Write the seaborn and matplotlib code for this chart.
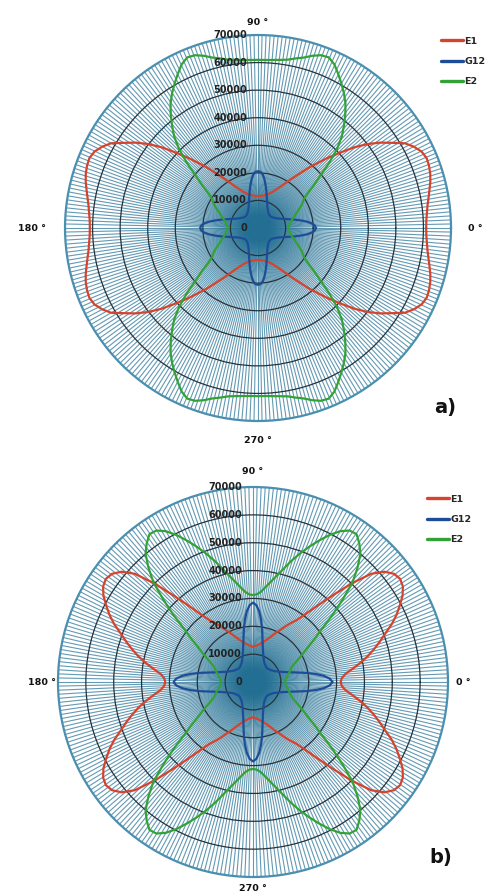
import numpy as np
import pandas as pd
import seaborn as sns
import matplotlib.pyplot as plt
from matplotlib.lines import Line2D

# angles of one quadrant (deg), 2.5 deg steps; curves are symmetric about 0 and 90 deg
quarter_deg = [i * 2.5 for i in range(37)]

# panel a) values read for 0..90 deg
E1_a = [61000, 61100, 61500, 62000, 62800, 63700, 64700, 65500, 66000, 66200,
        65500, 63800, 61500, 57500, 54000, 50000, 45500, 40500, 36200, 32000,
        28500, 25000, 22300, 20000, 18000, 16500, 15300, 14300, 13600, 13000,
        12600, 12300, 12000, 11800, 11700, 11600, 11600]
G12_a = [21000, 20600, 19500, 17800, 15800, 13900, 12200, 10800, 9700, 8800,
         8100, 7600, 7200, 6900, 6600, 6400, 6300, 6200, 6200, 6200,
         6300, 6400, 6600, 6900, 7200, 7600, 8100, 8800, 9700, 10800,
         12200, 13900, 15800, 17800, 19500, 20400, 20600]
E2_a = [11000, 11100, 11300, 11600, 12000, 12400, 13000, 13700, 14500, 15500,
        16600, 17800, 18800, 19800, 22000, 25500, 29500, 35000, 40500, 45000,
        48500, 52000, 55300, 58000, 60500, 63000, 65500, 67000, 66700, 65500,
        64000, 63000, 62000, 61500, 61200, 61000, 61000]

# panel b) values read for 0..90 deg
E1_b = [31500, 31900, 33300, 36000, 39000, 42000, 44800, 47600, 50400, 53800,
        56800, 59400, 62000, 63800, 64500, 63800, 61600, 57500, 50000, 42000,
        35500, 30500, 27000, 25000, 23000, 21000, 19500, 18000, 16800, 15800,
        15000, 14300, 13800, 13400, 13100, 12800, 12600]
G12_b = [28500, 27600, 25500, 22500, 19000, 15800, 13500, 11900, 10700, 9800,
         9100, 8500, 8100, 7800, 7600, 7400, 7200, 7100, 7100, 7100,
         7200, 7400, 7600, 7800, 8100, 8500, 9100, 9800, 10700, 11900,
         13500, 15800, 19000, 22500, 25500, 27600, 28500]
E2_b = [11500, 11600, 11800, 12100, 12500, 13000, 13500, 14100, 14600, 15500,
        17000, 18800, 21000, 23500, 27000, 31000, 37000, 43500, 50500, 55500,
        60000, 62700, 64800, 64500, 62500, 59500, 56000, 52500, 49000, 45500,
        42000, 39000, 36500, 34300, 32500, 31500, 31200]

r_ticks = [0, 10000, 20000, 30000, 40000, 50000, 60000, 70000]
series_names = ["E1", "G12", "E2"]
colors = {"E1": "#d6432c", "G12": "#1d4d98", "E2": "#33a236"}


def full_circle(q):
    # mirror the quadrant to 0..360 deg
    half = list(q) + list(q[-2::-1])
    return half + half[1:]


full_deg = quarter_deg + [180 - d for d in quarter_deg[-2::-1]]
full_deg = full_deg + [180 + d for d in full_deg[1:]]


def make_df(e1, g12, e2):
    rows = []
    for name, q in zip(series_names, [e1, g12, e2]):
        for d, v in zip(full_deg, full_circle(q)):
            rows.append({"theta": np.deg2rad(d), "value": v, "series": name})
    return pd.DataFrame(rows)


sns.set_style("white")
plt.rcParams["font.family"] = ["DejaVu Sans"]

fig = plt.figure(figsize=(4.87, 8.91), dpi=100)

panels = [
    # tag, data, axes rect, angle-label radii (0, 90, 180, 270), legend anchor, tag pos
    ("a)", make_df(E1_a, G12_a, E2_a), [0.1335, 0.5275, 0.7926, 0.4332],
     [78700, 74700, 82000, 76900], (0.905, 0.959), (0.915, 0.543)),
    ("b)", make_df(E1_b, G12_b, E2_b), [0.1191, 0.0157, 0.8008, 0.4377],
     [75400, 75400, 75700, 74000], (0.876, 0.445), (0.905, 0.038)),
]

spoke_angles = np.deg2rad(np.arange(0, 360, 1.2))

for tag, df, rect, lab_r, leg_pos, tag_pos in panels:
    ax = fig.add_axes(rect, projection="polar")
    ax.set_ylim(0, 70000)

    # dense spokes (they pile up into the dark centre) and dark rings
    ax.set_xticks(spoke_angles)
    ax.set_xticklabels([])
    ax.xaxis.grid(True, color="#226f93", linewidth=0.8, alpha=0.7)
    ax.set_yticks(r_ticks[1:-1])
    ax.set_yticklabels([])
    ax.yaxis.grid(True, color="#26323b", linewidth=0.9)
    ax.spines["polar"].set_color("#4a8fb0")
    ax.spines["polar"].set_linewidth(1.6)
    ax.tick_params(length=0)

    sns.lineplot(data=df, x="theta", y="value", hue="series", palette=colors,
                 sort=False, estimator=None, linewidth=1.6, ax=ax, legend=False)
    ax.set_xlabel("")
    ax.set_ylabel("")

    # radial value labels along the 90 deg spoke
    for r in r_ticks:
        ax.annotate(str(r), xy=(np.pi / 2, r), xytext=(-8, 0),
                    textcoords="offset points", ha="right", va="center",
                    fontsize=7, fontweight="bold", color="#222222")

    # angle labels
    for ang, r in zip([0, 90, 180, 270], lab_r):
        ax.text(np.deg2rad(ang), r, f"{ang} °", ha="center", va="center",
                fontsize=6.8, fontweight="bold", color="#111111")

    handles = [Line2D([], [], color=colors[n], linewidth=2.4) for n in series_names]
    fig.legend(handles, series_names, loc="upper left", bbox_to_anchor=leg_pos,
               frameon=False, handlelength=2.4, handletextpad=0.1,
               labelspacing=1.2, borderpad=0, borderaxespad=0,
               prop={"weight": "bold", "size": 6.8})

    fig.text(tag_pos[0], tag_pos[1], tag, fontsize=14, fontweight="bold",
             ha="center", va="center", color="#111111")

plt.savefig("out.png", dpi=100)
